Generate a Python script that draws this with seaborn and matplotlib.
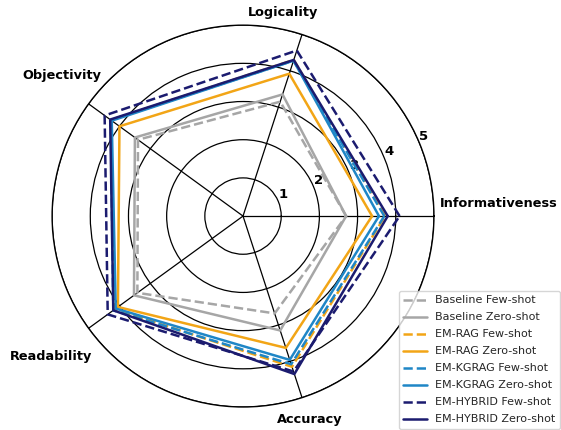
import numpy as np
import pandas as pd
import matplotlib
matplotlib.use('Agg')
import matplotlib.pyplot as plt
import seaborn as sns

# Scores per criterion
criteria = ['Informativeness', 'Logicality', 'Objectivity', 'Readability', 'Accuracy']
baseline_few = [2.70, 3.15, 3.40, 3.42, 2.68]
baseline_zero = [2.70, 3.35, 3.50, 3.53, 3.15]
rag_few = [3.72, 4.30, 4.28, 4.15, 4.15]
rag_zero = [3.38, 3.92, 4.00, 4.05, 3.63]
kgrag_few = [3.70, 4.28, 4.28, 4.20, 4.08]
kgrag_zero = [3.56, 4.28, 4.25, 4.12, 3.96]
hybrid_few = [4.10, 4.56, 4.48, 4.38, 4.28]
hybrid_zero = [3.79, 4.30, 4.30, 4.20, 4.35]

series = [
    ('Baseline Few-shot', baseline_few, '#a6a6a6', '--'),
    ('Baseline Zero-shot', baseline_zero, '#a6a6a6', '-'),
    ('EM-RAG Few-shot', rag_few, '#f2a516', '--'),
    ('EM-RAG Zero-shot', rag_zero, '#f2a516', '-'),
    ('EM-KGRAG Few-shot', kgrag_few, '#1f86c6', '--'),
    ('EM-KGRAG Zero-shot', kgrag_zero, '#1f86c6', '-'),
    ('EM-HYBRID Few-shot', hybrid_few, '#1b1b6f', '--'),
    ('EM-HYBRID Zero-shot', hybrid_zero, '#1b1b6f', '-'),
]

# where each criterion name sits (angle in degrees, radius in score units)
label_pos = [(2.9, 6.70), (78.9, 5.44), (142.1, 6.0), (216.2, 6.24), (288.2, 5.61)]

sns.set_style('white')

angles = np.linspace(0, 2 * np.pi, len(criteria), endpoint=False)
closed = np.concatenate([angles, angles[:1]])

fig = plt.figure(figsize=(5.61, 4.30), dpi=100)
ax = fig.add_axes([0.0927, 0.0535, 0.681, 0.888], projection='polar')

for name, vals, color, ls in series:
    df = pd.DataFrame({'theta': closed, 'r': list(vals) + [vals[0]]})
    sns.lineplot(data=df, x='theta', y='r', ax=ax, sort=False, estimator=None,
                 color=color, linestyle=ls, linewidth=1.8, label=name)

ax.set_ylim(0, 5)
ax.set_yticks([1, 2, 3, 4, 5])
ax.set_yticklabels(['1', '2', '3', '4', '5'], fontweight='bold', fontsize=9.5, color='black')
ax.set_rlabel_position(22.5)
ax.set_xticks(angles)
ax.set_xticklabels([])
for name, (deg, r) in zip(criteria, label_pos):
    ax.text(np.deg2rad(deg), r, name, ha='center', va='center', fontsize=9.3,
            fontweight='bold', color='black', clip_on=False)
ax.set_xlabel('')
ax.set_ylabel('')
ax.grid(True, color='black', linewidth=0.9)
ax.spines['polar'].set_color('black')
ax.spines['polar'].set_linewidth(1.0)

ax.legend(loc='lower right', bbox_to_anchor=(1.0, 0.0), bbox_transform=fig.transFigure,
          fontsize=8, frameon=True, handlelength=2.2, labelspacing=0.63,
          borderpad=0.4, handletextpad=0.7, borderaxespad=0.1)

fig.savefig('out.png', dpi=100)
